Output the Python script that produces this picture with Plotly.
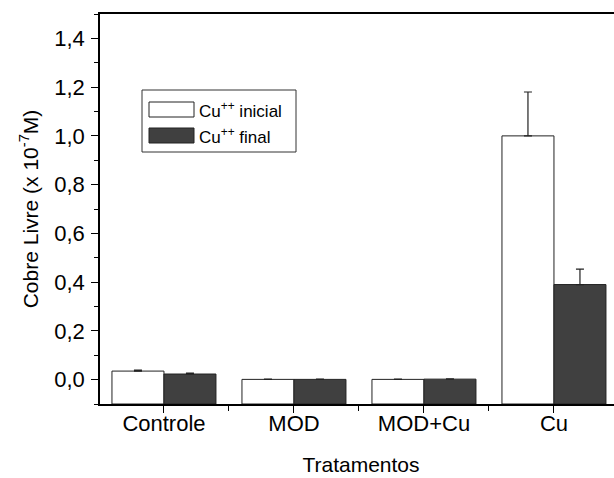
import plotly.graph_objects as go

categories = ["Controle", "MOD", "MOD+Cu", "Cu"]
x_pos = [0, 1, 2, 3]
inicial = [0.035, 0.001, 0.001, 1.0]
inicial_err = [0.004, 0.001, 0.001, 0.18]
final = [0.023, 0.001, 0.002, 0.39]
final_err = [0.004, 0.001, 0.001, 0.063]
y_ticks = [0.0, 0.2, 0.4, 0.6, 0.8, 1.0, 1.2, 1.4]
y_min, y_max = -0.1, 1.5

FONT = "Liberation Sans"

fig = go.Figure()
fig.add_trace(go.Bar(
    x=x_pos, y=[v - y_min for v in inicial], base=y_min, name="Cu<sup>++</sup> inicial",
    marker=dict(color="white", line=dict(color="#222222", width=1)),
    error_y=dict(type="data", array=inicial_err, arrayminus=[0]*4, symmetric=False,
                 color="#222222", thickness=1.2, width=4),
    showlegend=False,
))
fig.add_trace(go.Bar(
    x=x_pos, y=[v - y_min for v in final], base=y_min, name="Cu<sup>++</sup> final",
    marker=dict(color="#404040", line=dict(color="#222222", width=1)),
    error_y=dict(type="data", array=final_err, arrayminus=[0]*4, symmetric=False,
                 color="#222222", thickness=1.2, width=4),
    showlegend=False,
))

W, H = 622, 478
L, R, T, B = 100, 0, 14, 74
pw, ph = W - L - R, H - T - B
X_UNIT = 130.0
x_lo = -0.492
x_hi = x_lo + pw / X_UNIT

def px(xp):
    return (xp - L) / pw

def py(yp):
    return (H - B - yp) / ph

shapes = [
    dict(type="rect", xref="paper", yref="paper", x0=px(142), x1=px(296), y0=py(152), y1=py(90),
         line=dict(color="#333333", width=1), fillcolor="white", layer="above"),
    dict(type="rect", xref="paper", yref="paper", x0=px(149), x1=px(194), y0=py(117), y1=py(102),
         line=dict(color="#222222", width=1), fillcolor="white", layer="above"),
    dict(type="rect", xref="paper", yref="paper", x0=px(149), x1=px(194), y0=py(143), y1=py(128),
         line=dict(color="#222222", width=1), fillcolor="#404040", layer="above"),
]
annotations = [
    dict(xref="paper", yref="paper", x=px(197), y=py(109.5), text="Cu<sup>++</sup> inicial",
         showarrow=False, xanchor="left", yanchor="middle", font=dict(family=FONT, size=17, color="black")),
    dict(xref="paper", yref="paper", x=px(197), y=py(135.5), text="Cu<sup>++</sup> final",
         showarrow=False, xanchor="left", yanchor="middle", font=dict(family=FONT, size=17, color="black")),
]

fig.update_layout(
    width=W, height=H,
    margin=dict(l=L, r=R, t=T, b=B, pad=0, autoexpand=False),
    plot_bgcolor="white", paper_bgcolor="white",
    barmode="group", bargap=0.2, bargroupgap=0,
    separators=",.",
    font=dict(family=FONT, size=20, color="black"),
    shapes=shapes, annotations=annotations,
    xaxis=dict(
        automargin=False,
        range=[x_lo, x_hi],
        tickmode="array", tickvals=x_pos, ticktext=categories,
        ticks="outside", ticklen=7, tickwidth=1.2, tickcolor="black",
        minor=dict(tickmode="linear", tick0=0.5, dtick=1, ticks="outside", ticklen=5,
                   tickwidth=1.2, tickcolor="black"),
        showline=True, linecolor="black", linewidth=1.5, mirror=True,
        showgrid=False, zeroline=False,
        tickfont=dict(family=FONT, size=22),
        ticklabelstandoff=-8,
        title=dict(text="Tratamentos", font=dict(family=FONT, size=21), standoff=22),
    ),
    yaxis=dict(
        automargin=False,
        range=[y_min, y_max],
        tickmode="array", tickvals=y_ticks, tickformat=".1f",
        ticks="outside", ticklen=7, tickwidth=1.2, tickcolor="black",
        minor=dict(tickmode="linear", tick0=-0.1, dtick=0.2, ticks="outside", ticklen=4,
                   tickwidth=1.2, tickcolor="black"),
        showline=True, linecolor="black", linewidth=1.5, mirror=True,
        showgrid=False, zeroline=False,
        tickfont=dict(family=FONT, size=22),
        ticklabelstandoff=2,
        title=dict(text="Cobre Livre (x 10<sup>-7</sup>M)", font=dict(family=FONT, size=21), standoff=10),
    ),
)

fig.write_html("out.html", config={"displayModeBar": False},
               post_script="document.body.style.margin='0px';document.body.style.overflow='hidden';")
